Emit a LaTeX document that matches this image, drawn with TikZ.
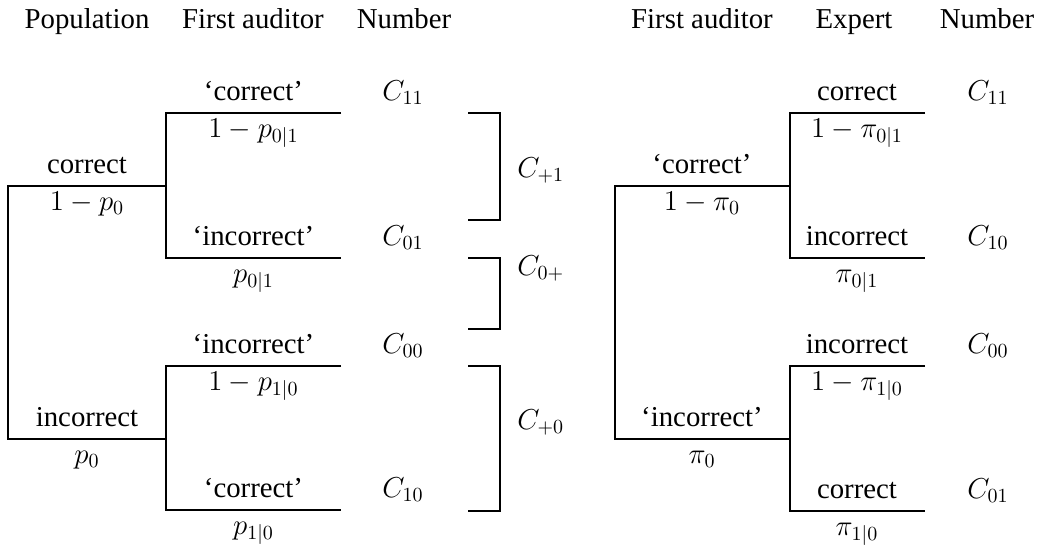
\documentclass[tikz,border=0pt]{standalone}
\usepackage[no-math]{fontspec}
\setmainfont{Liberation Serif}
\begin{document}
\begin{tikzpicture}[x=0.5pt,y=-0.5pt,
  lbl/.style={anchor=base,inner sep=0pt,font=\fontsize{14.4}{17}\selectfont},
  lblw/.style={anchor=base west,inner sep=0pt,font=\fontsize{14.4}{17}\selectfont},
  edge/.style={line width=1pt,line join=miter}]
\useasboundingbox (0,0) rectangle (1040,548);

% ---------------- headers
\node[lbl] (hpop) at (87,28) {Population};
\node[lbl] (hfa1) at (253,28) {First auditor};
\node[lbl] (hnum1) at (404,28) {Number};
\node[lbl] (hfa2) at (702,28) {First auditor};
\node[lbl] (hexp) at (854,28) {Expert};
\node[lbl] (hnum2) at (987,28) {Number};

% ---------------- left tree coordinates
\coordinate (lr1) at (8,186);
\coordinate (lr2) at (8,439);
\coordinate (la) at (166,186);
\coordinate (lb) at (166,439);
\coordinate (la1) at (166,113);
\coordinate (la2) at (166,258);
\coordinate (la1e) at (341,113);
\coordinate (la2e) at (341,258);
\coordinate (lb1) at (166,366);
\coordinate (lb2) at (166,510);
\coordinate (lb1e) at (341,366);
\coordinate (lb2e) at (341,510);

\draw[edge] (la) -- (lr1) -- (lr2) -- (lb);
\draw[edge] (la1e) -- (la1) -- (la2) -- (la2e);
\draw[edge] (lb1e) -- (lb1) -- (lb2) -- (lb2e);

% left labels
\node[lbl] (lc) at (87,173) {correct};
\node[lbl] (lcp) at (87,210) {$1-p_0$};
\node[lbl] (li) at (87,426) {incorrect};
\node[lbl] (lip) at (87,463) {$p_0$};

\node[lbl] (l11) at (253.5,100) {`correct'};
\node[lbl] (l11p) at (253.5,137) {$1-p_{0|1}$};
\node[lbl] (l01) at (253.5,245) {`incorrect'};
\node[lbl] (l01p) at (253.5,282) {$p_{0|1}$};
\node[lbl] (l00) at (253.5,353) {`incorrect'};
\node[lbl] (l00p) at (253.5,390) {$1-p_{1|0}$};
\node[lbl] (l10) at (253.5,497) {`correct'};
\node[lbl] (l10p) at (253.5,534) {$p_{1|0}$};

\node[lbl] (c11) at (403,100) {$C_{11}$};
\node[lbl] (c01) at (403,245) {$C_{01}$};
\node[lbl] (c00) at (403,353) {$C_{00}$};
\node[lbl] (c10) at (403,497) {$C_{10}$};

% brackets
\coordinate (b1a) at (468,113);
\coordinate (b1b) at (500,113);
\coordinate (b1c) at (500,220);
\coordinate (b1d) at (468,220);
\coordinate (b2a) at (468,258);
\coordinate (b2b) at (500,258);
\coordinate (b2c) at (500,329);
\coordinate (b2d) at (468,329);
\coordinate (b3a) at (468,366);
\coordinate (b3b) at (500,366);
\coordinate (b3c) at (500,511);
\coordinate (b3d) at (468,511);
\draw[edge] (b1a) -- (b1b) -- (b1c) -- (b1d);
\draw[edge] (b2a) -- (b2b) -- (b2c) -- (b2d);
\draw[edge] (b3a) -- (b3b) -- (b3c) -- (b3d);

\node[lblw] (cp1) at (517,177) {$C_{+1}$};
\node[lblw] (c0p) at (517,275) {$C_{0+}$};
\node[lblw] (cp0) at (517,429) {$C_{+0}$};

% ---------------- right tree
\coordinate (rr1) at (615,186);
\coordinate (rr2) at (615,439);
\coordinate (ra) at (790,186);
\coordinate (rb) at (790,439);
\coordinate (ra1) at (790,113);
\coordinate (ra2) at (790,258);
\coordinate (ra1e) at (925,113);
\coordinate (ra2e) at (925,258);
\coordinate (rb1) at (790,366);
\coordinate (rb2) at (790,511);
\coordinate (rb1e) at (925,366);
\coordinate (rb2e) at (925,511);

\draw[edge] (ra) -- (rr1) -- (rr2) -- (rb);
\draw[edge] (ra1e) -- (ra1) -- (ra2) -- (ra2e);
\draw[edge] (rb1e) -- (rb1) -- (rb2) -- (rb2e);

\node[lbl] (rc) at (702,173) {`correct'};
\node[lbl] (rcp) at (702,210) {$1-\pi_0$};
\node[lbl] (ri) at (702,426) {`incorrect'};
\node[lbl] (rip) at (702,463) {$\pi_0$};

\node[lbl] (r11) at (857,100) {correct};
\node[lbl] (r11p) at (857,137) {$1-\pi_{0|1}$};
\node[lbl] (r10) at (857,245) {incorrect};
\node[lbl] (r10p) at (857,282) {$\pi_{0|1}$};
\node[lbl] (r00) at (857,353) {incorrect};
\node[lbl] (r00p) at (857,390) {$1-\pi_{1|0}$};
\node[lbl] (r01) at (857,498) {correct};
\node[lbl] (r01p) at (857,535) {$\pi_{1|0}$};

\node[lbl] (d11) at (988,100) {$C_{11}$};
\node[lbl] (d10) at (988,245) {$C_{10}$};
\node[lbl] (d00) at (988,353) {$C_{00}$};
\node[lbl] (d01) at (988,498) {$C_{01}$};
\end{tikzpicture}
\end{document}
